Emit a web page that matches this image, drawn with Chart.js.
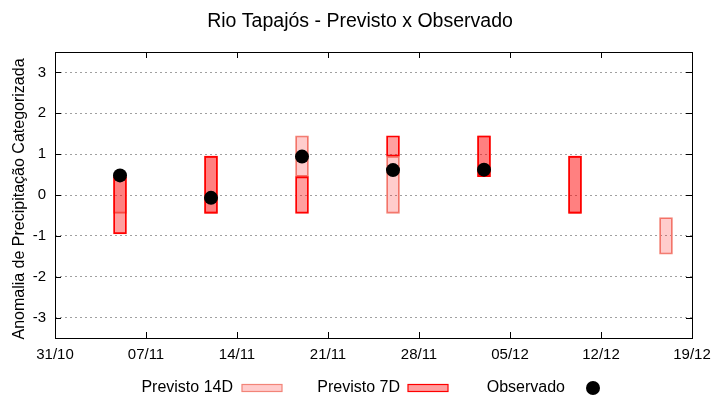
<!DOCTYPE html>
<html>
<head>
<meta charset="utf-8">
<script src="https://cdn.jsdelivr.net/npm/chart.js@4.4.1/dist/chart.umd.min.js"></script>
<style>
    html, body { margin: 0; padding: 0; background: #fff; }
    #wrap { width: 720px; height: 400px; }
</style>
</head>
<body>
<div id="wrap"><canvas id="chart" width="720" height="400"></canvas></div>
<script>
// Forecast weeks (centre date of each bar)
const weeks = ['05/11', '12/11', '19/11', '26/11', '03/12', '10/12', '17/12'];

// Previsto 14D (low / high)
const f14Low  = [-0.45, -0.45, 0.45, -0.45, 0.45, -0.45, -1.45];
const f14High = [ 0.45,  0.95, 1.45,  0.95, 1.45,  0.95, -0.55];

// Previsto 7D (low / high)
const f7Low  = [-0.95, -0.45, -0.45, 0.95, 0.45, -0.45, null];
const f7High = [ 0.45,  0.95,  0.45, 1.45, 1.45,  0.95, null];

// Observado
const observed = [0.48, -0.07, 0.94, 0.61, 0.62, null, null];

const xTickLabels = ['31/10', '07/11', '14/11', '21/11', '28/11', '05/12', '12/12', '19/12'];
const yTickValues = [-3, -2, -1, 0, 1, 2, 3];

const FONT = "'Liberation Sans', Arial, sans-serif";
const c14Fill = 'rgba(255, 0, 0, 0.2)';
const c14Border = '#f28478';
const c7Fill = 'rgba(255, 0, 0, 0.375)';
const c7Border = '#ff0000';

// days since 31/10
function dayOffset(label) {
    const [d, m] = label.split('/').map(Number);
    const base = new Date(2000, 9, 31);
    const dt = new Date(2000, m - 1, d);
    return Math.round((dt - base) / 86400000);
}

function barData(lows, highs) {
    const out = [];
    weeks.forEach((w, i) => {
        if (lows[i] !== null) out.push({ x: dayOffset(w), y: [lows[i], highs[i]] });
    });
    return out;
}

const obsData = [];
weeks.forEach((w, i) => {
    if (observed[i] !== null) obsData.push({ x: dayOffset(w), y: observed[i] });
});

// frame, inward ticks, title, y title and gnuplot-like legend
const decorPlugin = {
    id: 'decor',
    afterDraw(chart) {
        const { ctx, chartArea: a, scales } = chart;
        ctx.save();
        ctx.strokeStyle = '#000';
        ctx.lineWidth = 1;
        ctx.strokeRect(a.left + 0.5, a.top + 0.5, a.right - a.left, a.bottom - a.top);

        ctx.beginPath();
        yTickValues.forEach(v => {
            const y = Math.round(scales.y.getPixelForValue(v)) + 0.5;
            ctx.moveTo(a.left, y); ctx.lineTo(a.left + 6, y);
            ctx.moveTo(a.right, y); ctx.lineTo(a.right - 6, y);
        });
        xTickLabels.forEach((l, i) => {
            const x = Math.round(scales.x.getPixelForValue(i * 7)) + 0.5;
            ctx.moveTo(x, a.bottom); ctx.lineTo(x, a.bottom - 6);
            ctx.moveTo(x, a.top); ctx.lineTo(x, a.top + 6);
        });
        ctx.stroke();

        ctx.fillStyle = '#000';
        ctx.textAlign = 'center';
        ctx.textBaseline = 'alphabetic';
        ctx.font = '19.5px ' + FONT;
        ctx.fillText('Rio Tapajós - Previsto x Observado', 360, 27);

        ctx.save();
        ctx.translate(20, 199);
        ctx.rotate(-Math.PI / 2);
        ctx.textBaseline = 'middle';
        ctx.font = '16px ' + FONT;
        ctx.fillText('Anomalia de Precipitação Categorizada', 0, 0);
        ctx.restore();

        // legend
        ctx.font = '16px ' + FONT;
        ctx.textAlign = 'right';
        const ly = 391.5;
        ctx.fillText('Previsto 14D', 233, ly);
        ctx.fillText('Previsto 7D', 400, ly);
        ctx.fillText('Observado', 565, ly);

        ctx.lineWidth = 1.2;
        ctx.fillStyle = c14Fill;
        ctx.fillRect(242, 384.5, 40, 7);
        ctx.strokeStyle = c14Border;
        ctx.strokeRect(242, 384.5, 40, 7);
        ctx.fillStyle = c7Fill;
        ctx.fillRect(408, 384.5, 40, 7);
        ctx.strokeStyle = c7Border;
        ctx.strokeRect(408, 384.5, 40, 7);

        ctx.fillStyle = '#000';
        ctx.beginPath();
        ctx.arc(593, 388, 7, 0, Math.PI * 2);
        ctx.fill();
        ctx.restore();
    }
};

new Chart(document.getElementById('chart'), {
    type: 'bar',
    data: {
        datasets: [
            {
                type: 'line',
                label: 'Observado',
                data: obsData,
                showLine: false,
                pointRadius: 7,
                pointHoverRadius: 7,
                pointBackgroundColor: '#000',
                pointBorderWidth: 0,
                order: 0
            },
            {
                label: 'Previsto 7D',
                data: barData(f7Low, f7High),
                backgroundColor: c7Fill,
                borderColor: c7Border,
                borderWidth: 1.2,
                borderSkipped: false,
                barThickness: 13,
                grouped: false,
                order: 1
            },
            {
                label: 'Previsto 14D',
                data: barData(f14Low, f14High),
                backgroundColor: c14Fill,
                borderColor: c14Border,
                borderWidth: 1.2,
                borderSkipped: false,
                barThickness: 13,
                grouped: false,
                order: 2
            }
        ]
    },
    options: {
        responsive: false,
        animation: false,
        events: [],
        layout: { padding: { top: 52, right: 28, left: 0, bottom: 0 } },
        plugins: {
            legend: { display: false },
            title: { display: false },
            tooltip: { enabled: false }
        },
        scales: {
            x: {
                type: 'linear',
                min: 0,
                max: 49,
                offset: false,
                afterBuildTicks: s => { s.ticks = xTickLabels.map((l, i) => ({ value: i * 7 })); },
                afterFit: s => { s.height = 62; },
                grid: { display: false, drawTicks: false },
                border: { display: false },
                ticks: {
                    autoSkip: false,
                    maxRotation: 0,
                    padding: 8,
                    color: '#000',
                    font: { family: FONT, size: 15 },
                    callback: (v) => xTickLabels[Math.round(v / 7)]
                }
            },
            y: {
                min: -3.5,
                max: 3.5,
                afterBuildTicks: s => { s.ticks = yTickValues.map(v => ({ value: v })); },
                afterFit: s => { s.width = 55; },
                grid: { color: '#a0a0a0', lineWidth: 1, drawTicks: false },
                border: { display: false, dash: [2, 3] },
                ticks: {
                    padding: 9,
                    color: '#000',
                    font: { family: FONT, size: 15 }
                }
            }
        }
    },
    plugins: [decorPlugin]
});
</script>
</body>
</html>
